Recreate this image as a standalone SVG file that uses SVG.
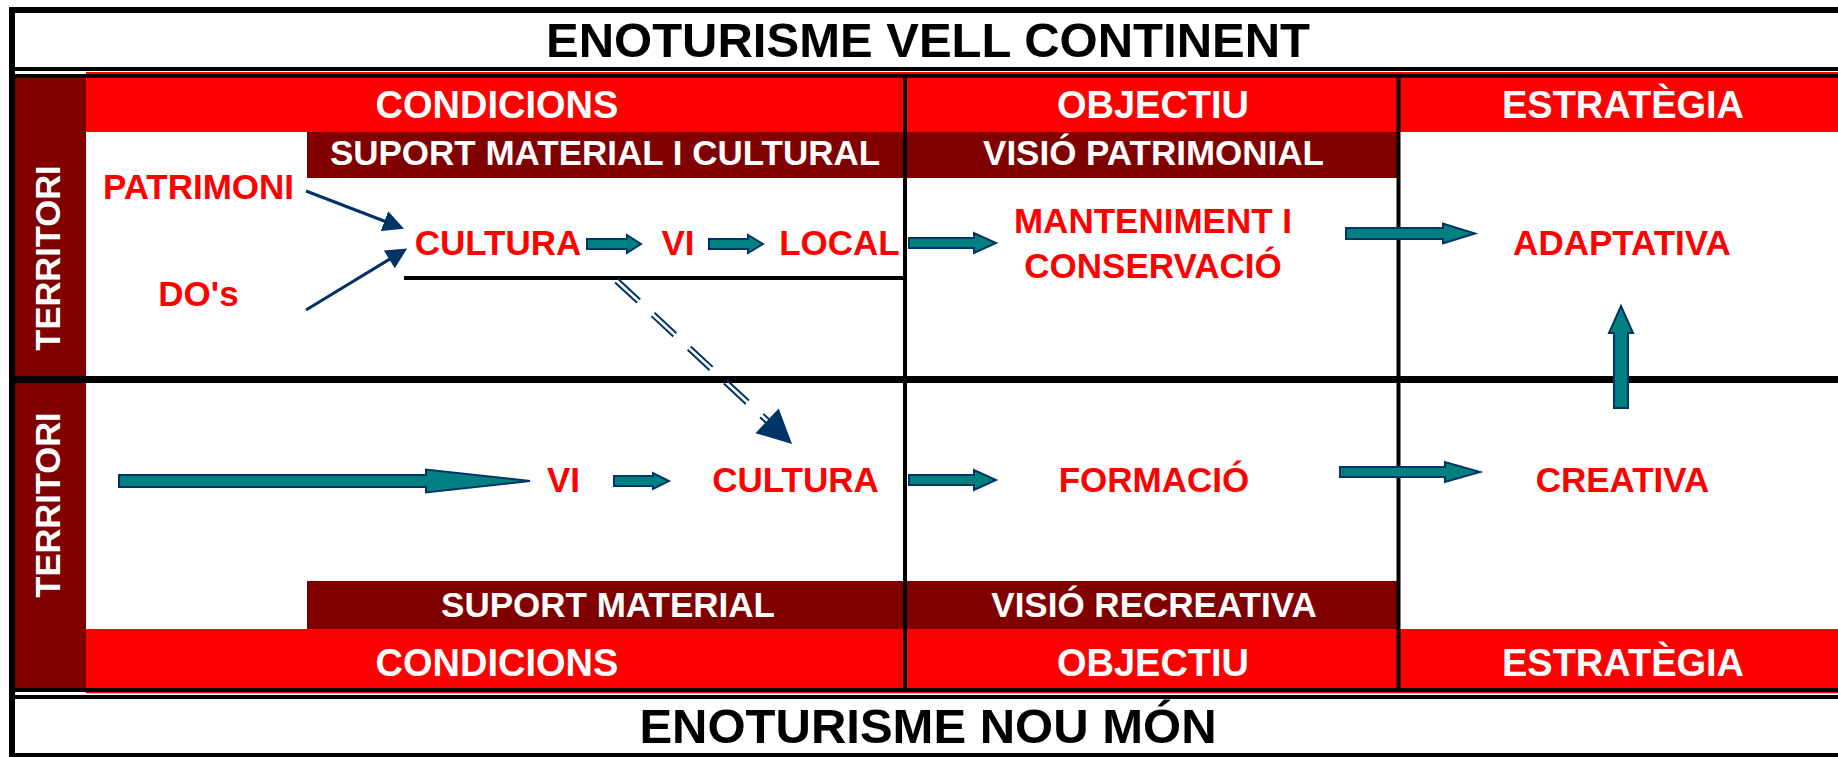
<svg xmlns="http://www.w3.org/2000/svg" width="1838" height="757" viewBox="0 0 1838 757">
<style>
text{font-family:"Liberation Sans",Arial,sans-serif;font-weight:bold;text-anchor:middle}
.title{font-size:49px;fill:#000}
.hdr{font-size:38px;fill:#fff}
.sub{font-size:35px;fill:#fff}
.red{font-size:35px;fill:#f00}
.terr{font-size:34.5px;fill:#fff}
.blk{fill:#000}
.teal{fill:#008080;stroke:#003366;stroke-width:2;stroke-linejoin:miter}
.navy{stroke:#003366;stroke-width:3;fill:none}
.dash{stroke:#003366;stroke-width:2;stroke-dasharray:30 19.5;fill:none}
</style>
<defs>
<marker id="nh" markerUnits="userSpaceOnUse" viewBox="0 0 21 21" markerWidth="21" markerHeight="21" refX="1" refY="10.5" orient="auto">
<path d="M0,0 L21,10.5 L0,21 Z" fill="#003366"/>
</marker>
</defs>
<rect x="0" y="0" width="1838" height="757" fill="#fff"/>
<g id="grid">
<rect x="86" y="72" width="1752" height="60" fill="#f00"/>
<rect x="15" y="74" width="71" height="616" fill="#800000"/>
<rect x="307" y="132" width="1091" height="46" fill="#800000"/>
<rect x="307" y="581" width="1091" height="48" fill="#800000"/>
<rect x="86" y="629" width="1752" height="64.3" fill="#f00"/>
<rect class="blk" x="9" y="7" width="1829" height="6"/>
<rect class="blk" x="9" y="7" width="6" height="750"/>
<rect class="blk" x="15" y="67" width="1823" height="4"/>
<rect class="blk" x="15" y="74" width="1823" height="3.7"/>
<rect class="blk" x="15" y="376" width="1823" height="7"/>
<rect class="blk" x="15" y="688" width="1823" height="4"/>
<rect class="blk" x="15" y="695" width="1823" height="4"/>
<rect class="blk" x="9" y="753" width="1829" height="4"/>
<rect class="blk" x="903" y="77" width="4" height="611"/>
<rect class="blk" x="1396.5" y="77" width="4" height="611"/>
<rect class="blk" x="404" y="276" width="501" height="4"/>
</g>
<g id="title-top"><text class="title" x="928" y="57">ENOTURISME VELL CONTINENT</text></g>
<g id="title-bottom"><text class="title" x="928" y="743">ENOTURISME NOU MÓN</text></g>
<g id="hdr-top">
<text class="hdr" x="497" y="118">CONDICIONS</text>
<text class="hdr" x="1153" y="118">OBJECTIU</text>
<text class="hdr" x="1623" y="118">ESTRATÈGIA</text>
</g>
<g id="hdr-bottom">
<text class="hdr" x="497" y="676">CONDICIONS</text>
<text class="hdr" x="1153" y="676">OBJECTIU</text>
<text class="hdr" x="1623" y="676">ESTRATÈGIA</text>
</g>
<g id="sub-top">
<text class="sub" x="605" y="165">SUPORT MATERIAL I CULTURAL</text>
<text class="sub" x="1153.5" y="165">VISIÓ PATRIMONIAL</text>
</g>
<g id="sub-bottom">
<text class="sub" x="608" y="617">SUPORT MATERIAL</text>
<text class="sub" x="1154" y="617">VISIÓ RECREATIVA</text>
</g>
<g id="territori-top"><text class="terr" transform="translate(60,258) rotate(-90)">TERRITORI</text></g>
<g id="territori-bottom"><text class="terr" transform="translate(60,505) rotate(-90)">TERRITORI</text></g>
<g id="n-patrimoni"><text class="red" x="198.5" y="199">PATRIMONI</text></g>
<g id="n-dos"><text class="red" x="198.5" y="306">DO's</text></g>
<g id="n-cultura1"><text class="red" x="498" y="255">CULTURA</text></g>
<g id="n-vi1"><text class="red" x="678" y="255">VI</text></g>
<g id="n-local"><text class="red" x="839.5" y="255">LOCAL</text></g>
<g id="n-manteniment"><text class="red" x="1153" y="233">MANTENIMENT I</text><text class="red" x="1153" y="278">CONSERVACIÓ</text></g>
<g id="n-adaptativa"><text class="red" x="1622" y="255">ADAPTATIVA</text></g>
<g id="n-vi2"><text class="red" x="563.5" y="492">VI</text></g>
<g id="n-cultura2"><text class="red" x="795.5" y="492">CULTURA</text></g>
<g id="n-formacio"><text class="red" x="1154" y="492">FORMACIÓ</text></g>
<g id="n-creativa"><text class="red" x="1622.5" y="492">CREATIVA</text></g>
<g id="connectors">
<line class="navy" x1="306" y1="191" x2="385.4" y2="221.5" marker-end="url(#nh)"/>
<line class="navy" x1="306" y1="310" x2="390.1" y2="258.9" marker-end="url(#nh)"/>
<path class="dash" d="M615.1,282.4 L766.4,423.2"/>
<path class="dash" d="M618.3,279 L769.6,419.8"/>
<polygon points="792,444 755.5,433.2 778.7,408.4" fill="#003366"/>
<polygon class="teal" points="587,239 627,239 627,235 641,244 627,253 627,249 587,249"/>
<polygon class="teal" points="709,239 748,239 748,235 763,244 748,253 748,249 709,249"/>
<polygon class="teal" points="909,238 974,238 974,233 996,243 974,253 974,248 909,248"/>
<polygon class="teal" points="1346,228 1443,228 1443,223.5 1475,233.5 1443,243.5 1443,239 1346,239"/>
<polygon class="teal" points="1614,408 1614,333 1609,333 1621,306 1633,333 1628,333 1628,408"/>
<polygon class="teal" points="119,475 426,475 426,469.5 530,481 426,492.5 426,487 119,487"/>
<polygon class="teal" points="614,476 653,476 653,473 669,481 653,489 653,486 614,486"/>
<polygon class="teal" points="909,475 974,475 974,470 996,480 974,490 974,485 909,485"/>
<polygon class="teal" points="1340,467 1445,467 1445,462 1480,472 1445,482 1445,477 1340,477"/>
</g>
</svg>
